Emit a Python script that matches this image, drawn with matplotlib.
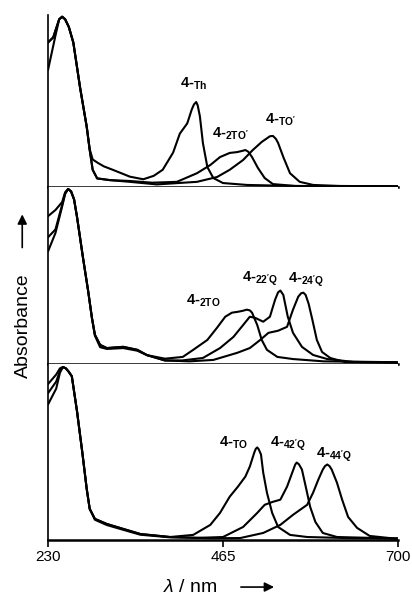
import matplotlib
matplotlib.use("Agg")
import matplotlib.pyplot as plt
import matplotlib.patches as patches

plt.rcParams['font.family'] = ['Liberation Sans', 'DejaVu Sans']
plt.rcParams['mathtext.fontset'] = 'custom'
plt.rcParams['mathtext.rm'] = 'Liberation Sans'
plt.rcParams['mathtext.bf'] = 'Liberation Sans:bold'
plt.rcParams['mathtext.it'] = 'Liberation Sans:italic'

# ---- data (wavelength in nm, absorbance normalised) ----
# panel 1
th_wl = [230, 240, 245, 249, 253, 258, 264, 273, 282, 286, 290, 297, 305, 317, 340, 358, 372, 384, 398, 407, 417, 423, 426, 429, 431, 434, 438, 444, 452, 465, 497, 560, 700]
th_abs = [0.68, 0.88, 0.975, 0.99, 0.975, 0.93, 0.84, 0.58, 0.35, 0.22, 0.16, 0.14, 0.12, 0.10, 0.06, 0.045, 0.065, 0.10, 0.20, 0.31, 0.37, 0.45, 0.48, 0.494, 0.475, 0.41, 0.256, 0.116, 0.052, 0.023, 0.012, 0.006, 0.004]

tto2_wl = [230, 237, 245, 249, 253, 258, 264, 273, 282, 286, 290, 296, 313, 340, 370, 403, 430, 448, 461, 474, 484, 491, 495, 499, 504, 512, 521, 532, 562, 620, 700]
tto2_abs = [0.84, 0.87, 0.975, 0.99, 0.975, 0.93, 0.84, 0.58, 0.35, 0.215, 0.10, 0.05, 0.04, 0.035, 0.025, 0.03, 0.08, 0.128, 0.174, 0.198, 0.203, 0.21, 0.215, 0.205, 0.174, 0.11, 0.052, 0.017, 0.006, 0.004, 0.003]

to1_wl = [230, 237, 245, 249, 253, 258, 264, 273, 282, 286, 290, 296, 313, 340, 376, 430, 457, 474, 492, 505, 517, 524, 528, 532, 536, 539, 546, 555, 568, 586, 622, 700]
to1_abs = [0.84, 0.87, 0.975, 0.99, 0.975, 0.93, 0.84, 0.58, 0.35, 0.215, 0.10, 0.05, 0.04, 0.03, 0.015, 0.03, 0.058, 0.10, 0.157, 0.215, 0.262, 0.283, 0.295, 0.297, 0.28, 0.256, 0.174, 0.08, 0.03, 0.012, 0.006, 0.004]

# panel 2
to2_wl = [230, 240, 249, 253, 257, 261, 265, 269, 277, 284, 289, 293, 300, 309, 331, 350, 363, 387, 411, 425, 444, 457, 468, 477, 485, 491, 497, 501, 504, 511, 517, 524, 538, 559, 600, 700]
to2_abs = [0.835, 0.87, 0.915, 0.97, 0.989, 0.975, 0.93, 0.83, 0.60, 0.41, 0.26, 0.165, 0.108, 0.09, 0.097, 0.08, 0.05, 0.03, 0.04, 0.08, 0.136, 0.205, 0.267, 0.29, 0.295, 0.30, 0.307, 0.303, 0.29, 0.22, 0.136, 0.08, 0.04, 0.028, 0.015, 0.01]

q22_wl = [230, 240, 249, 253, 257, 261, 265, 269, 277, 284, 289, 293, 300, 309, 331, 350, 363, 387, 410, 438, 461, 479, 492, 501, 508, 519, 528, 535, 539, 542, 546, 552, 559, 571, 586, 605, 640, 700]
q22_abs = [0.716, 0.76, 0.90, 0.965, 0.989, 0.975, 0.93, 0.83, 0.60, 0.41, 0.26, 0.16, 0.095, 0.085, 0.09, 0.075, 0.05, 0.02, 0.02, 0.034, 0.09, 0.153, 0.22, 0.267, 0.261, 0.239, 0.267, 0.364, 0.405, 0.415, 0.39, 0.267, 0.176, 0.097, 0.051, 0.028, 0.012, 0.008]

q24_wl = [230, 240, 249, 253, 257, 261, 265, 269, 277, 284, 289, 293, 300, 309, 331, 350, 363, 387, 420, 452, 484, 501, 515, 526, 539, 551, 559, 566, 570, 573, 576, 580, 585, 591, 598, 609, 629, 700]
q24_abs = [0.636, 0.74, 0.89, 0.96, 0.989, 0.975, 0.93, 0.83, 0.60, 0.41, 0.26, 0.165, 0.108, 0.09, 0.097, 0.08, 0.05, 0.02, 0.015, 0.023, 0.063, 0.09, 0.136, 0.176, 0.188, 0.21, 0.307, 0.38, 0.40, 0.403, 0.39, 0.34, 0.25, 0.136, 0.068, 0.034, 0.011, 0.008]

# panel 3
to3_wl = [230, 241, 246, 250, 254, 258, 262, 269, 276, 282, 286, 293, 309, 331, 354, 394, 425, 448, 461, 474, 485, 495, 501, 507, 509, 511, 513, 516, 519, 524, 531, 539, 555, 578, 640, 700]
to3_abs = [0.886, 0.94, 0.975, 0.983, 0.975, 0.955, 0.93, 0.73, 0.50, 0.29, 0.177, 0.12, 0.091, 0.063, 0.034, 0.017, 0.029, 0.086, 0.154, 0.246, 0.303, 0.36, 0.417, 0.497, 0.518, 0.526, 0.515, 0.486, 0.383, 0.269, 0.154, 0.074, 0.029, 0.017, 0.01, 0.008]

q42_wl = [230, 241, 246, 250, 254, 258, 262, 269, 276, 282, 286, 293, 309, 331, 354, 394, 430, 465, 492, 511, 521, 532, 542, 551, 558, 562, 564, 567, 571, 577, 582, 589, 599, 618, 700]
q42_abs = [0.834, 0.90, 0.96, 0.983, 0.975, 0.955, 0.93, 0.73, 0.50, 0.29, 0.177, 0.115, 0.085, 0.058, 0.03, 0.015, 0.012, 0.017, 0.074, 0.154, 0.2, 0.217, 0.229, 0.303, 0.383, 0.429, 0.44, 0.43, 0.40, 0.286, 0.189, 0.103, 0.04, 0.017, 0.008]

q44_wl = [230, 241, 246, 250, 254, 258, 262, 269, 276, 282, 286, 293, 309, 331, 354, 394, 450, 488, 519, 542, 559, 578, 586, 593, 599, 602, 605, 608, 611, 618, 625, 633, 645, 662, 689, 700]
q44_abs = [0.77, 0.86, 0.95, 0.983, 0.975, 0.955, 0.93, 0.73, 0.50, 0.29, 0.177, 0.12, 0.091, 0.063, 0.034, 0.017, 0.01, 0.011, 0.04, 0.086, 0.143, 0.2, 0.269, 0.343, 0.40, 0.42, 0.429, 0.42, 0.40, 0.326, 0.229, 0.131, 0.069, 0.023, 0.011, 0.008]

panels = [
    [(th_wl, th_abs), (tto2_wl, tto2_abs), (to1_wl, to1_abs)],
    [(to2_wl, to2_abs), (q22_wl, q22_abs), (q24_wl, q24_abs)],
    [(to3_wl, to3_abs), (q42_wl, q42_abs), (q44_wl, q44_abs)],
]

# 라벨: (텍스트, 파장, 흡광도)
labels = [
    [(r"$\mathbf{4}$-$_\mathbf{Th}$", 407, 0.576),
     (r"$\mathbf{4}$-$_\mathbf{2TO'}$", 450, 0.29),
     (r"$\mathbf{4}$-$_\mathbf{TO'}$", 521, 0.37)],
    [(r"$\mathbf{4}$-$_\mathbf{2TO}$", 415, 0.335),
     (r"$\mathbf{4}$-$_\mathbf{22'Q}$", 490, 0.466),
     (r"$\mathbf{4}$-$_\mathbf{24'Q}$", 552, 0.46)],
    [(r"$\mathbf{4}$-$_\mathbf{TO}$", 459, 0.53),
     (r"$\mathbf{4}$-$_\mathbf{42'Q}$", 528, 0.53),
     (r"$\mathbf{4}$-$_\mathbf{44'Q}$", 590, 0.47)],
]

x_ticks = [230, 465, 700]

fig = plt.figure(figsize=(4.12, 5.96), dpi=100)

# 패널 위치 (픽셀 기준) - 간격 없이 쌓기
left = 48 / 412
width = 350 / 412
tops = [15, 187, 364]
bottoms = [187, 364, 540]

for i in range(3):
    b = 1 - bottoms[i] / 596
    h = (bottoms[i] - tops[i]) / 596
    ax = fig.add_axes([left, b, width, h])

    for wl, ab in panels[i]:
        ax.plot(wl, ab, color='black', linewidth=1.5,
                solid_joinstyle='round', solid_capstyle='round')

    for txt, lx, ly in labels[i]:
        ax.text(lx, ly, txt, ha='left', va='baseline', fontsize=10.5,
                fontweight='bold')

    ax.set_xlim(230, 700)
    ax.set_ylim(0, 1.0)
    ax.spines['top'].set_visible(False)
    ax.spines['right'].set_visible(False)
    ax.spines['left'].set_linewidth(1.2)
    ax.spines['bottom'].set_linewidth(1.8)
    ax.set_yticks([])
    if i < 2:
        ax.set_xticks([])
    else:
        ax.set_xticks(x_ticks)
        ax.tick_params(axis='x', direction='out', length=5, width=1.2,
                       labelsize=11, pad=2)

# y축 라벨 + 화살표
fig.text(0.056, 0.453, "Absorbance", rotation=90, ha='center', va='center',
         fontsize=14)
fig.add_artist(patches.FancyArrowPatch(
    (0.054, 0.58), (0.054, 0.645), transform=fig.transFigure,
    arrowstyle='-|>', mutation_scale=14, color='black', linewidth=1.2))

# x축 라벨 + 화살표
fig.text(0.461, 0.015, r"$\it{\lambda}$ / nm", ha='center', va='center',
         fontsize=14)
fig.add_artist(patches.FancyArrowPatch(
    (0.578, 0.015), (0.672, 0.015), transform=fig.transFigure,
    arrowstyle='-|>', mutation_scale=14, color='black', linewidth=1.2))

fig.savefig("out.png", dpi=100)
